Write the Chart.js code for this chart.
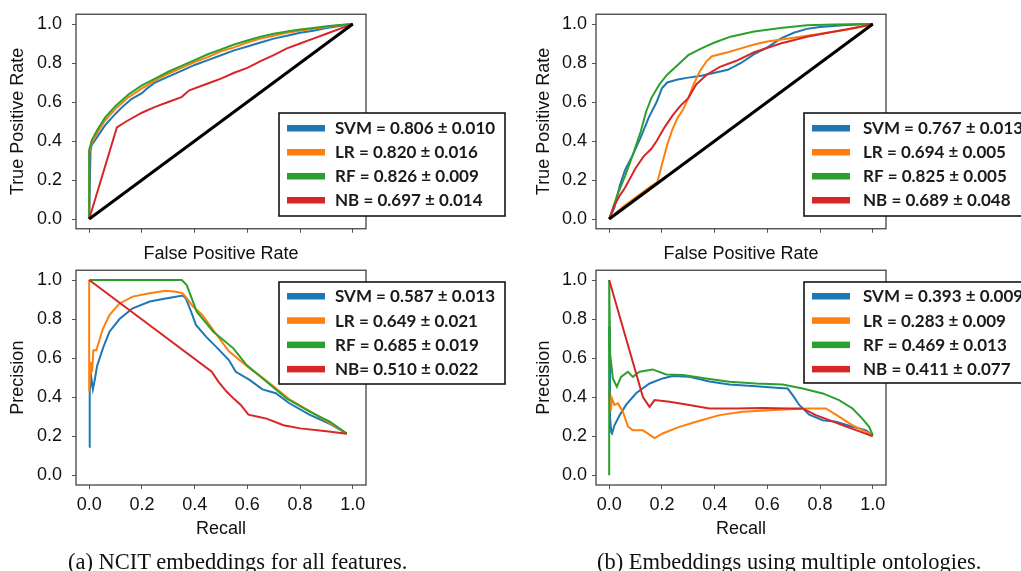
<!DOCTYPE html>
<html>
<head>
<meta charset="utf-8">
<script src="https://cdn.jsdelivr.net/npm/chart.js@4.4.1/dist/chart.umd.min.js"></script>
<style>
  html, body { margin: 0; padding: 0; background: #fff; }
  body { width: 1021px; height: 571px; position: relative; overflow: hidden; }
  canvas { position: absolute; }
  .cap { position: absolute; font-family: "Liberation Serif", "Times New Roman", serif; font-size: 22.5px; line-height: 22.5px; color: #111; white-space: nowrap; }
</style>
</head>
<body>
<canvas id="rocA" width="510" height="265" style="left:0px;top:0px"></canvas>
<canvas id="prA" width="510" height="285" style="left:0px;top:255px"></canvas>
<canvas id="rocB" width="511" height="265" style="left:510px;top:0px"></canvas>
<canvas id="prB" width="511" height="285" style="left:510px;top:255px"></canvas>
<div class="cap" style="left:68px;top:551px">(a) NCIT embeddings for all features.</div>
<div class="cap" style="left:597px;top:551px">(b) Embeddings using multiple ontologies.</div>
<script>
// Classifiers and their colours
const models = ['SVM', 'LR', 'RF', 'NB'];
const colors = ['#1f77b4', '#ff7f0e', '#2ca02c', '#d62728'];
const tickValues = [0, 0.2, 0.4, 0.6, 0.8, 1.0];
const chance = [[0, 0], [1, 1]];

// (a) NCIT embeddings - ROC curves [fpr, tpr]
const rocA_svm = [[0,0],[0.005,0.35],[0.01,0.38],[0.03,0.42],[0.06,0.48],[0.1,0.54],[0.13,0.58],[0.16,0.615],[0.2,0.645],[0.22,0.67],[0.25,0.70],[0.3,0.73],[0.35,0.76],[0.4,0.79],[0.45,0.815],[0.5,0.84],[0.55,0.865],[0.6,0.885],[0.65,0.905],[0.7,0.925],[0.75,0.94],[0.8,0.955],[0.85,0.965],[0.9,0.98],[0.95,0.99],[1,1]];
const rocA_lr = [[0,0],[0,0.34],[0.01,0.39],[0.03,0.44],[0.06,0.505],[0.1,0.565],[0.15,0.625],[0.2,0.67],[0.25,0.71],[0.3,0.745],[0.35,0.775],[0.4,0.805],[0.45,0.83],[0.5,0.86],[0.55,0.88],[0.6,0.905],[0.65,0.925],[0.7,0.94],[0.75,0.955],[0.8,0.965],[0.85,0.975],[0.9,0.985],[0.95,0.993],[1,1]];
const rocA_rf = [[0,0],[0,0.355],[0.01,0.405],[0.03,0.455],[0.06,0.52],[0.1,0.58],[0.15,0.64],[0.2,0.685],[0.25,0.72],[0.3,0.755],[0.35,0.785],[0.4,0.815],[0.45,0.845],[0.5,0.87],[0.55,0.895],[0.6,0.915],[0.65,0.935],[0.7,0.95],[0.75,0.962],[0.8,0.972],[0.85,0.98],[0.9,0.988],[0.95,0.995],[1,1]];
const rocA_nb = [[0,0],[0.105,0.47],[0.14,0.50],[0.2,0.545],[0.25,0.575],[0.3,0.60],[0.35,0.625],[0.38,0.66],[0.45,0.695],[0.5,0.72],[0.55,0.75],[0.6,0.775],[0.65,0.81],[0.7,0.84],[0.75,0.875],[0.8,0.9],[0.85,0.925],[0.9,0.95],[0.95,0.975],[1,1]];

// (a) NCIT embeddings - precision/recall curves [recall, precision]
const prA_svm = [[0,0.145],[0.002,0.43],[0.008,0.50],[0.014,0.44],[0.02,0.48],[0.03,0.56],[0.052,0.65],[0.077,0.735],[0.115,0.80],[0.165,0.855],[0.23,0.89],[0.29,0.905],[0.355,0.92],[0.367,0.905],[0.386,0.84],[0.405,0.77],[0.443,0.71],[0.48,0.66],[0.53,0.59],[0.556,0.53],[0.607,0.49],[0.657,0.44],[0.708,0.42],[0.758,0.37],[0.835,0.31],[0.91,0.265],[0.977,0.213]];
const prA_lr = [[0,1.0],[0,0.43],[0.006,0.58],[0.011,0.53],[0.016,0.64],[0.027,0.64],[0.052,0.75],[0.077,0.82],[0.115,0.88],[0.165,0.915],[0.229,0.932],[0.29,0.945],[0.33,0.94],[0.355,0.932],[0.374,0.90],[0.393,0.865],[0.43,0.82],[0.48,0.726],[0.53,0.635],[0.57,0.59],[0.607,0.55],[0.657,0.50],[0.708,0.445],[0.758,0.39],[0.835,0.33],[0.91,0.27],[0.977,0.213]];
const prA_rf = [[0,1.0],[0.351,1.0],[0.37,0.974],[0.408,0.838],[0.471,0.735],[0.547,0.65],[0.597,0.564],[0.673,0.479],[0.749,0.393],[0.838,0.325],[0.914,0.274],[0.977,0.213]];
const prA_nb = [[0,1.0],[0.465,0.53],[0.49,0.48],[0.52,0.43],[0.55,0.39],[0.575,0.36],[0.604,0.31],[0.64,0.30],[0.673,0.29],[0.737,0.256],[0.8,0.24],[0.9,0.225],[0.977,0.213]];

// (b) multiple ontologies - ROC curves
const rocB_svm = [[0,0],[0.02,0.06],[0.04,0.17],[0.06,0.25],[0.09,0.33],[0.12,0.42],[0.15,0.52],[0.18,0.6],[0.2,0.67],[0.22,0.70],[0.26,0.715],[0.3,0.725],[0.35,0.735],[0.4,0.75],[0.45,0.765],[0.5,0.80],[0.55,0.845],[0.6,0.88],[0.65,0.925],[0.7,0.955],[0.75,0.975],[0.8,0.985],[0.9,0.995],[1,1]];
const rocB_lr = [[0,0],[0.05,0.06],[0.1,0.11],[0.15,0.16],[0.183,0.19],[0.2,0.28],[0.22,0.38],[0.24,0.46],[0.26,0.52],[0.28,0.56],[0.3,0.62],[0.32,0.69],[0.345,0.76],[0.37,0.81],[0.39,0.835],[0.45,0.855],[0.5,0.875],[0.55,0.895],[0.6,0.91],[0.7,0.93],[0.8,0.95],[0.9,0.97],[1,1]];
const rocB_rf = [[0,0],[0.03,0.12],[0.06,0.22],[0.09,0.33],[0.12,0.45],[0.14,0.55],[0.16,0.62],[0.19,0.69],[0.22,0.74],[0.26,0.79],[0.3,0.84],[0.35,0.875],[0.4,0.905],[0.46,0.935],[0.55,0.962],[0.65,0.98],[0.75,0.993],[0.85,0.998],[1,1]];
const rocB_nb = [[0,0],[0.02,0.07],[0.04,0.12],[0.06,0.16],[0.08,0.21],[0.1,0.26],[0.13,0.32],[0.16,0.36],[0.18,0.4],[0.21,0.47],[0.24,0.53],[0.27,0.58],[0.3,0.62],[0.33,0.69],[0.37,0.74],[0.42,0.78],[0.48,0.81],[0.55,0.855],[0.65,0.9],[0.75,0.935],[0.85,0.96],[0.95,0.985],[1,1]];

// (b) multiple ontologies - precision/recall curves
const prB_svm = [[0,0.76],[0.003,0.30],[0.008,0.22],[0.011,0.214],[0.02,0.256],[0.04,0.308],[0.064,0.36],[0.102,0.42],[0.153,0.47],[0.203,0.496],[0.241,0.508],[0.304,0.504],[0.38,0.48],[0.456,0.465],[0.557,0.456],[0.633,0.448],[0.677,0.444],[0.696,0.41],[0.721,0.36],[0.759,0.31],[0.81,0.282],[0.86,0.274],[0.923,0.248],[0.973,0.231],[1,0.205]];
const prB_lr = [[0,0.436],[0.005,0.325],[0.011,0.393],[0.02,0.36],[0.033,0.368],[0.052,0.325],[0.071,0.25],[0.09,0.23],[0.128,0.23],[0.172,0.19],[0.203,0.214],[0.266,0.248],[0.33,0.274],[0.418,0.308],[0.506,0.325],[0.607,0.333],[0.682,0.338],[0.759,0.342],[0.822,0.342],[0.872,0.30],[0.923,0.256],[0.96,0.231],[1,0.205]];
const prB_rf = [[0,0],[0,1.0],[0.004,0.615],[0.014,0.496],[0.029,0.453],[0.045,0.504],[0.071,0.53],[0.09,0.504],[0.115,0.53],[0.165,0.542],[0.216,0.516],[0.28,0.513],[0.367,0.496],[0.456,0.479],[0.557,0.47],[0.658,0.465],[0.734,0.444],[0.81,0.419],[0.872,0.385],[0.923,0.342],[0.96,0.29],[0.986,0.248],[1,0.205]];
const prB_nb = [[0,1.0],[0.128,0.40],[0.153,0.35],[0.172,0.385],[0.229,0.376],[0.304,0.36],[0.38,0.342],[0.48,0.342],[0.582,0.345],[0.682,0.342],[0.734,0.342],[0.784,0.308],[0.835,0.282],[0.886,0.256],[0.936,0.231],[1,0.2]];

// Legend entries: mean score ± standard deviation
const legendRocA = ['SVM = 0.806 ± 0.010', 'LR = 0.820 ± 0.016', 'RF = 0.826 ± 0.009', 'NB = 0.697 ± 0.014'];
const legendPrA = ['SVM = 0.587 ± 0.013', 'LR = 0.649 ± 0.021', 'RF = 0.685 ± 0.019', 'NB= 0.510 ± 0.022'];
const legendRocB = ['SVM = 0.767 ± 0.013', 'LR = 0.694 ± 0.005', 'RF = 0.825 ± 0.005', 'NB = 0.689 ± 0.048'];
const legendPrB = ['SVM = 0.393 ± 0.009', 'LR = 0.283 ± 0.009', 'RF = 0.469 ± 0.013', 'NB = 0.411 ± 0.077'];

const SANS = '"Liberation Sans", Arial, Helvetica, sans-serif';
const INK = '#111';

// Axes box drawn around the whole plotting area
const framePlugin = {
  id: 'frame',
  afterDatasetsDraw(chart) {
    const { ctx, chartArea: a } = chart;
    ctx.save();
    ctx.strokeStyle = '#444';
    ctx.lineWidth = 1.3;
    ctx.strokeRect(a.left, a.top, a.right - a.left, a.bottom - a.top);
    ctx.restore();
  }
};

// Boxed legend with thick colour swatches
const boxLegendPlugin = {
  id: 'boxLegend',
  afterDraw(chart, args, o) {
    if (!o || !o.labels) return;
    const ctx = chart.ctx;
    ctx.save();
    ctx.fillStyle = '#fff';
    ctx.fillRect(o.x, o.y, o.w, o.h);
    ctx.lineWidth = 1.6;
    ctx.strokeStyle = '#151515';
    ctx.strokeRect(o.x, o.y, o.w, o.h);
    ctx.font = 'bold 17px Lato, "Open Sans", sans-serif';
    ctx.textBaseline = 'middle';
    ctx.textAlign = 'left';
    o.labels.forEach((t, i) => {
      const cy = o.y + o.first + i * o.step;
      ctx.fillStyle = colors[i];
      ctx.fillRect(o.x + 8, cy - 3, 38, 6.5);
      ctx.fillStyle = '#1b1b1b';
      ctx.fillText(t, o.x + o.tx, cy + 1);
    });
    ctx.restore();
  }
};

function setTicks(scale) {
  scale.ticks = tickValues.map(v => ({ value: v }));
}

function panel(id, curves, legendLabels, g) {
  const datasets = curves.map((pts, i) => ({
    label: models[i],
    data: pts.map(p => ({ x: p[0], y: p[1] })),
    borderColor: colors[i],
    backgroundColor: colors[i],
    borderWidth: 2,
    pointRadius: 0,
    showLine: true,
    fill: false,
    tension: 0,
    order: 4 - i
  }));
  if (g.diag) {
    datasets.push({
      label: 'chance',
      data: chance.map(p => ({ x: p[0], y: p[1] })),
      borderColor: '#000',
      borderWidth: 3,
      pointRadius: 0,
      showLine: true,
      order: 0
    });
  }
  const gridCfg = { display: true, drawOnChartArea: false, drawTicks: true, tickLength: 4, color: '#555', lineWidth: 1 };
  return new Chart(document.getElementById(id), {
    type: 'scatter',
    data: { datasets },
    options: {
      responsive: false,
      animation: false,
      devicePixelRatio: 1,
      events: [],
      layout: { padding: { left: 0, top: g.top, right: g.right, bottom: 0 } },
      plugins: {
        legend: { display: false },
        tooltip: { enabled: false },
        boxLegend: Object.assign({ labels: legendLabels }, g.legend)
      },
      scales: {
        x: {
          type: 'linear', min: -0.05, max: 1.05,
          afterBuildTicks: setTicks,
          afterFit(s) { s.height = g.xh; s.paddingLeft = 0; s.paddingRight = 0; },
          grid: gridCfg,
          border: { display: false },
          ticks: { display: g.xlabels, padding: 5, color: INK, font: { family: SANS, size: 18 }, callback: v => v.toFixed(1) },
          title: { display: true, text: g.xtitle, color: INK, font: { family: SANS, size: 18 }, padding: { top: g.xtp, bottom: 0 } }
        },
        y: {
          type: 'linear', min: -0.05, max: 1.05,
          afterBuildTicks: setTicks,
          afterFit(s) { s.width = g.yw; s.paddingTop = 0; s.paddingBottom = 0; },
          grid: gridCfg,
          border: { display: false },
          ticks: { padding: g.ypad, color: INK, font: { family: SANS, size: 18 }, callback: v => v.toFixed(1) },
          title: { display: true, text: g.ytitle, color: INK, font: { family: SANS, size: 18 }, padding: { top: g.ytp, bottom: 0 } }
        }
      }
    },
    plugins: [framePlugin, boxLegendPlugin]
  });
}

function drawAll() {
  panel('rocA', [rocA_svm, rocA_lr, rocA_rf, rocA_nb], legendRocA, {
    diag: true, top: 14.25, right: 144, xh: 36.25, yw: 76, ytp: 7.2, xtp: 1.2, ypad: 10, xlabels: false,
    xtitle: 'False Positive Rate', ytitle: 'True Positive Rate',
    legend: { x: 279, y: 113, w: 226, h: 103, first: 15, step: 24, tx: 56 }
  });
  panel('prA', [prA_svm, prA_lr, prA_rf, prA_nb], legendPrA, {
    diag: false, top: 15.25, right: 144, xh: 55, yw: 76, ytp: 7.2, xtp: 2.2, ypad: 10, xlabels: true,
    xtitle: 'Recall', ytitle: 'Precision',
    legend: { x: 279, y: 27, w: 226, h: 102, first: 14, step: 24.3, tx: 56 }
  });
  panel('rocB', [rocB_svm, rocB_lr, rocB_rf, rocB_nb], legendRocB, {
    diag: true, top: 14.25, right: 135, xh: 36.25, yw: 86, ytp: 23.2, xtp: 1.2, ypad: 5, xlabels: false,
    xtitle: 'False Positive Rate', ytitle: 'True Positive Rate',
    legend: { x: 294, y: 113, w: 260, h: 103, first: 15, step: 24, tx: 59 }
  });
  panel('prB', [prB_svm, prB_lr, prB_rf, prB_nb], legendPrB, {
    diag: false, top: 15.25, right: 135, xh: 55, yw: 86, ytp: 23.2, xtp: 2.2, ypad: 5, xlabels: true,
    xtitle: 'Recall', ytitle: 'Precision',
    legend: { x: 294, y: 27, w: 260, h: 101, first: 14, step: 24.3, tx: 59 }
  });
}

Promise.all([
  document.fonts.load('bold 17px Lato'),
  document.fonts.load('18px "Liberation Sans"'),
  document.fonts.load('22px "Liberation Serif"')
]).then(drawAll, drawAll);
</script>
</body>
</html>
